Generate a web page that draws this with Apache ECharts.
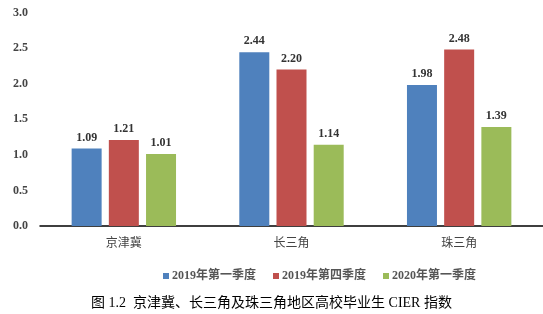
<!DOCTYPE html>
<html><head><meta charset="utf-8">
<script src="https://cdn.jsdelivr.net/npm/echarts@6/dist/echarts.min.js"></script>
<style>html,body{margin:0;padding:0;background:#fff}#c{width:543px;height:314px}</style>
</head><body><div id="c"></div>
<script>
const categories = ['京津冀', '长三角', '珠三角'];
const seriesNames = ['2019年第一季度', '2019年第四季度', '2020年第一季度'];
const q1_2019 = [1.09, 2.44, 1.98];
const q4_2019 = [1.21, 2.20, 2.48];
const q1_2020 = [1.01, 1.14, 1.39];
const yTicks = [0, 0.5, 1.0, 1.5, 2.0, 2.5, 3.0];
const titleText = '图 1.2  京津冀、长三角及珠三角地区高校毕业生 CIER 指数';

const colors = ['#4F81BD', '#C0504D', '#9BBB59'];
const serif = '"Liberation Serif", "Times New Roman", "Noto Sans CJK SC", serif';
const chart = echarts.init(document.getElementById('c'));
const data = [q1_2019, q4_2019, q1_2020];
chart.setOption({
  animation: false,
  color: colors,
  title: {
    text: titleText, left: 'center', top: 291,
    textStyle: { fontSize: 14, fontWeight: 'normal', color: '#000', fontFamily: serif }
  },
  legend: {
    data: seriesNames, top: 265, left: 158,
    itemWidth: 6, itemHeight: 6, itemGap: 17,
    icon: 'rect',
    textStyle: { fontSize: 12, fontWeight: 'bold', color: '#555', fontFamily: serif, padding: [0, 0, 0, -2] }
  },
  grid: { left: 40, right: 0, top: 12.5, bottom: 88 },
  xAxis: {
    type: 'category', data: categories,
    axisLine: { lineStyle: { color: '#000', width: 1.5 } },
    axisTick: { show: false },
    axisLabel: { fontSize: 12, color: '#444', margin: 10, fontFamily: '"Noto Sans CJK SC", sans-serif' }
  },
  yAxis: {
    type: 'value', min: yTicks[0], max: yTicks[yTicks.length - 1], interval: 0.5,
    axisLine: { show: false }, axisTick: { show: false }, splitLine: { show: false },
    axisLabel: {
      fontSize: 12, fontWeight: 'bold', color: '#444', fontFamily: serif, margin: 12,
      formatter: v => v.toFixed(1)
    }
  },
  series: data.map((d, i) => ({
    name: seriesNames[i], type: 'bar', data: d,
    barWidth: 30, barGap: '24%',
    label: {
      show: true, position: 'top', distance: 5,
      fontSize: 12, fontWeight: 'bold', color: '#333', fontFamily: serif,
      formatter: p => p.value.toFixed(2)
    }
  }))
});
</script></body></html>
